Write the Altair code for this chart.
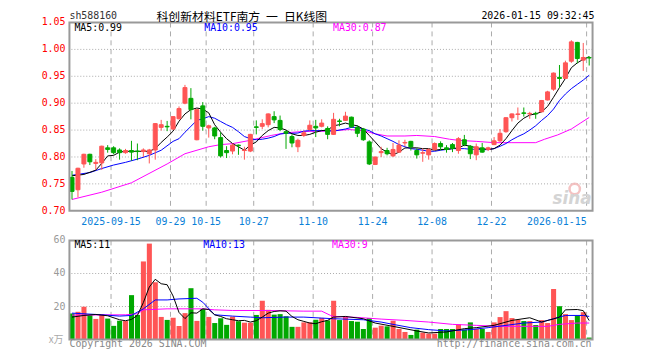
import altair as alt
import pandas as pd

# ---------------- data ----------------
tick_idx = [7, 17, 23, 31, 41, 51, 61, 71, 87]
tick_lbl = ["2025-09-15", "09-29", "10-15", "10-27", "11-10", "11-24", "12-08", "12-22", "2026-01-15"]

opens = [.762, .739, .787, .805, .788, .789, .817, .817, .813, .808,
         .812, .811, .810, .806, .813, .855, .857, .852, .871, .900,
         .909, .832, .895, .854, .854, .836, .812, .811, .822, .812,
         .811, .856, .857, .860, .875, .868, .847, .838, .819, .840,
         .851, .857, .857, .853, .842, .867, .868, .874, .855, .852,
         .828, .786, .808, .812, .802, .809, .826, .829, .812, .807,
         .804, .814, .825, .817, .823, .812, .832, .820, .804, .817,
         .814, .823, .830, .847, .873, .879, .882, .880, .881, .884,
         .906, .926, .948, .946, .978, 1.013, .980, .985]
highs = [.774, .780, .806, .806, .796, .821, .822, .820, .816, .815,
         .830, .825, .816, .815, .863, .869, .867, .876, .894, .934,
         .928, .888, .902, .860, .856, .846, .820, .825, .823, .819,
         .843, .868, .870, .881, .885, .877, .849, .842, .834, .849,
         .868, .869, .870, .857, .882, .871, .884, .875, .859, .854,
         .831, .800, .819, .817, .826, .831, .832, .830, .816, .816,
         .816, .827, .829, .822, .826, .837, .841, .822, .825, .826,
         .819, .837, .852, .874, .881, .892, .892, .884, .884, .906,
         .923, .957, .971, .979, 1.017, 1.014, 1.012, .987]
lows = [.721, .725, .780, .785, .776, .776, .808, .805, .795, .806,
        .793, .794, .800, .788, .795, .849, .848, .850, .870, .898,
        .870, .831, .849, .836, .833, .799, .798, .805, .804, .795,
        .809, .842, .852, .855, .863, .848, .815, .818, .809, .837,
        .849, .837, .855, .833, .841, .857, .867, .854, .837, .830,
        .785, .785, .800, .803, .800, .808, .820, .812, .797, .791,
        .795, .812, .812, .808, .809, .806, .820, .796, .794, .808,
        .811, .822, .828, .845, .866, .869, .875, .871, .871, .883,
        .905, .923, .929, .945, .975, .974, .960, .970]
closes = [.736, .779, .805, .791, .790, .820, .814, .808, .808, .812,
          .809, .810, .813, .813, .862, .860, .856, .875, .890, .929,
          .888, .888, .857, .858, .839, .802, .808, .822, .821, .813,
          .842, .855, .862, .880, .869, .851, .844, .826, .831, .845,
          .859, .854, .863, .842, .870, .866, .876, .856, .844, .832,
          .787, .800, .810, .806, .814, .822, .827, .819, .804, .808,
          .814, .825, .819, .814, .816, .834, .823, .806, .819, .809,
          .817, .830, .844, .873, .880, .880, .881, .881, .880, .905,
          .921, .956, .946, .975, 1.014, .983, .985, .984]
vols = [15.8, 16.8, 19.8, 14.7, 12.5, 15.2, 12.7, 8.3, 11.4, 11.2,
        26.9, 14.9, 47.3, 58.1, 34.7, 13.7, 11.9, 13.2, 8.2, 16.0,
        31.1, 11.3, 18.5, 13.7, 10.0, 12.9, 8.9, 13.9, 11.1, 10.2,
        10.2, 14.9, 23.5, 18.0, 15.1, 15.4, 14.1, 7.7, 7.7, 10.4,
        10.4, 12.0, 13.1, 11.6, 23.5, 11.8, 14.0, 11.2, 10.8, 6.4,
        13.0, 7.2, 8.4, 8.0, 11.4, 6.4, 4.6, 2.8, 6.0, 4.2,
        3.6, 3.6, 6.4, 6.4, 6.4, 9.2, 6.0, 10.4, 6.4, 6.4,
        4.6, 10.4, 13.6, 17.2, 13.0, 12.0, 11.2, 11.2, 8.8, 11.8,
        10.0, 30.6, 20.2, 15.4, 11.8, 14.4, 16.6, 1.2]

# moving averages (bar number, value)
ma5_bar = [1, 3, 5, 6, 7, 8, 9, 10, 12, 14, 15, 16, 17, 18, 19, 20, 21, 22, 23, 24, 25, 26, 27, 28, 29, 30,
           31, 32, 33, 34, 35, 36, 37, 38, 39, 40, 41, 42, 43, 44, 45, 46, 47, 48, 49, 50, 51, 52, 53, 54, 55,
           56, 57, 58, 59, 60, 61, 62, 63, 64, 65, 66, 67, 68, 69, 70, 71, 72, 73, 74, 75, 76, 77, 78, 79, 80,
           81, 82, 83, 84, 85, 86, 87, 88]
ma5_val = [.765, .7675, .7755, .788, .802, .803, .809, .8105, .8105, .8105, .8155, .827, .837, .848, .8665,
           .880, .888, .891, .889, .882, .860, .846, .834, .825, .819, .8125, .822, .828, .840, .849, .855,
           .854, .850, .843, .840, .840, .842, .846, .849, .850, .858, .860, .863, .860, .858, .852, .840,
           .828, .8155, .809, .804, .809, .8167, .817, .817, .8155, .8155, .8125, .814, .814, .8155, .817,
           .822, .820, .817, .8155, .814, .8155, .822, .834, .849, .863, .872, .878, .880, .884, .894, .911,
           .929, .946, .966, .975, .9815, .9865]
ma10_bar = [1, 4, 6, 8, 10, 12, 14, 16, 18, 19, 20, 21, 22, 23, 24, 25, 26, 27, 28, 29, 30, 31, 32, 33, 34,
            35, 36, 37, 38, 39, 40, 41, 42, 43, 44, 45, 46, 47, 48, 49, 50, 51, 52, 53, 54, 55, 56, 57, 58,
            59, 60, 61, 62, 63, 64, 65, 66, 67, 68, 69, 70, 71, 72, 73, 74, 75, 76, 77, 78, 79, 80, 81, 82,
            83, 84, 85, 86, 87, 88]
ma10_val = [.766, .771, .7785, .785, .790, .796, .803, .8125, .829, .834, .846, .857, .868, .871, .875, .872,
            .866, .860, .855, .847, .838, .834, .832, .833, .835, .838, .8426, .844, .844, .8445, .848, .849,
            .849, .849, .849, .848, .850, .852, .855, .855, .852, .849, .843, .839, .834, .829, .823, .819,
            .8155, .8143, .8125, .8106, .8106, .8125, .814, .8155, .8155, .8155, .8143, .8143, .8136, .8136,
            .8155, .8198, .825, .832, .838, .843, .850, .858, .868, .877, .889, .905, .917, .927, .935, .943,
            .952]
ma30_bar = [1, 6, 11, 17, 20, 24, 26, 28, 31, 34.5, 37, 40, 44, 47.6, 50, 52, 54, 57, 59, 62, 64.5, 66, 69,
            72, 75, 79, 80.5, 82.7, 85, 86.6, 88]
ma30_val = [.721, .7345, .752, .787, .806, .819, .823, .8247, .831, .840, .845, .8475, .848, .851, .849, .843,
            .839, .839, .840, .838, .833, .831, .829, .8266, .8266, .8266, .833, .841, .852, .8635, .8735]

vma5_bar = [1, 3, 5, 7, 9, 10, 11, 12, 13, 14, 15, 16, 17, 18, 19, 20, 21, 22, 23, 24, 25, 26, 27, 28, 29,
            30, 31, 32, 33, 34, 35, 36, 37, 38, 39, 40, 41, 42, 43, 44, 45, 47, 50, 52, 55, 59, 61, 64, 67,
            69, 72, 75, 78, 80, 82, 83, 84, 86, 87, 88]
vma5_val = [13.6, 14.6, 15.2, 14.4, 12.0, 11.4, 12.2, 14.6, 22.4, 31.8, 36.5, 33.8, 33.2, 26.4, 16.4, 12.7,
            16.2, 16.0, 18.6, 18.2, 15.0, 14.0, 12.6, 12.0, 11.4, 11.6, 10.6, 11.4, 13.6, 16.0, 17.0, 17.4,
            17.2, 14.0, 12.0, 11.0, 10.0, 9.6, 10.8, 11.6, 13.6, 14.0, 12.6, 10.0, 8.0, 5.2, 4.0, 4.6, 6.6,
            7.2, 8.6, 11.6, 13.2, 10.6, 12.5, 13.6, 18.0, 18.2, 17.5, 11.5]
vma10_bar = [1, 6, 9, 11, 13, 15, 17, 19, 22, 23, 25, 28, 31, 33, 37, 40, 43, 45, 50, 53, 55, 58, 61, 64, 68,
             71, 74, 77, 80, 82, 84, 87, 88]
vma10_val = [16.0, 15.0, 14.2, 14.6, 18.6, 24.0, 24.0, 24.6, 25.0, 22.6, 15.0, 14.2, 13.6, 13.2, 13.6, 13.6,
             13.0, 12.6, 12.0, 10.6, 9.2, 7.2, 6.0, 5.2, 6.0, 7.2, 8.6, 10.0, 10.6, 12.6, 14.6, 14.6, 14.0]
vma30_bar = [1, 10, 12, 13, 17, 23, 25, 28, 34, 40, 43, 44.5, 45, 49, 53, 57, 61, 65, 69, 73, 78, 81, 83,
             86, 88]
vma30_val = [14.8, 15.0, 15.6, 18.0, 18.6, 18.6, 18.0, 17.6, 17.6, 17.2, 17.2, 14.6, 14.0, 13.4, 12.4, 11.6,
             10.6, 9.2, 8.6, 8.0, 8.0, 8.0, 9.2, 10.0, 10.0]

price_ticks = [0.70, 0.75, 0.80, 0.85, 0.90, 0.95, 1.00, 1.05]
vol_ticks = [0, 20, 40, 60]

# ---------------- style ----------------
RED = "#ff5555"
GREEN = "#00a800"
GRID = "#aaaaaa"
BORDER = "#999999"
MONO = "DejaVu Sans Mono"
CJK = "Noto Sans CJK SC"
N = len(opens)

W, H = 528, 320
xs = alt.Scale(domain=[0, N], nice=False, zero=False)
ps = alt.Scale(domain=[1.05 - 320 * 0.35 / 190, 1.05], nice=False, zero=False)
vs = alt.Scale(domain=[0, 192], nice=False, zero=False)
cs = alt.Scale(domain=["up", "down"], range=[RED, GREEN])

df = pd.DataFrame({"i": list(range(N)), "open": opens, "high": highs, "low": lows,
                   "close": closes, "vol": vols})
base = alt.Chart(df).transform_calculate(
    dir="datum.close >= datum.open ? 'up' : 'down'",
    x0="datum.i + 0.1", x1="datum.i + 0.77", xc="datum.i + 0.435",
    v0="datum.i + 0.02", v1="datum.i + 0.87", zero="0",
)
col = alt.Color("dir:N", scale=cs, legend=None)

ticks_df = pd.DataFrame({"t": tick_idx, "lbl": tick_lbl})
pt_df = pd.DataFrame({"p": price_ticks})
vt_df = pd.DataFrame({"v": vol_ticks})
frame_p = pd.DataFrame({"a": [0], "b": [N], "top": [price_ticks[-1]], "bot": [price_ticks[0]]})
frame_v = pd.DataFrame({"a": [0], "b": [N], "top": [vol_ticks[-1]], "bot": [vol_ticks[0]]})


def ma_line(bars, vals, color, yscale):
    d = pd.DataFrame({"b": bars, "v": vals})
    return alt.Chart(d).transform_calculate(xm="datum.b - 0.565").mark_line(
        color=color, strokeWidth=1
    ).encode(x=alt.X("xm:Q", scale=xs, axis=None), y=alt.Y("v:Q", scale=yscale, axis=None))


dummy = pd.DataFrame({"k": [0]})


def txt(s, x, y, color, size=10, align="left", font=MONO, **kw):
    return alt.Chart(dummy).mark_text(text=s, align=align, baseline="middle", font=font,
                                      fontSize=size, color=color, **kw).encode(
        x=alt.value(x), y=alt.value(y))


layers = []
# ---------------- price panel ----------------
layers.append(alt.Chart(pt_df).transform_filter("datum.p > 0.72 && datum.p < 1.02").mark_rule(
    color=GRID, strokeDash=[1, 2], strokeWidth=1).encode(y=alt.Y("p:Q", scale=ps, axis=None)))
layers.append(alt.Chart(ticks_df).transform_calculate(top="1.05", bot="0.70").mark_rule(
    color=GRID, strokeDash=[5, 4], strokeWidth=1).encode(
    x=alt.X("t:Q", scale=xs, axis=None), y=alt.Y("top:Q", scale=ps, axis=None), y2="bot:Q"))
# sina watermark
layers.append(alt.Chart(dummy).mark_point(shape="circle", size=110, filled=False, stroke="#f2b4b4",
                                          strokeWidth=2.5, opacity=0.8).encode(
    x=alt.value(510), y=alt.value(168)))
layers.append(txt("sina", 527, 178, "#d4d4d4", size=17, align="right", font="DejaVu Sans",
                  fontStyle="italic", fontWeight="bold"))
layers.append(ma_line(ma30_bar, ma30_val, "#ff00ff", ps))
layers.append(ma_line(ma10_bar, ma10_val, "#0000ff", ps))
layers.append(ma_line(ma5_bar, ma5_val, "#000000", ps))
layers.append(base.mark_rule(strokeWidth=1).encode(
    x=alt.X("xc:Q", scale=xs, axis=None), y=alt.Y("low:Q", scale=ps, axis=None), y2="high:Q", color=col))
layers.append(base.mark_rect(strokeWidth=1).encode(
    x=alt.X("x0:Q", scale=xs, axis=None), x2="x1:Q",
    y=alt.Y("open:Q", scale=ps, axis=None), y2="close:Q", color=col, stroke=col))
layers.append(alt.Chart(frame_p).mark_rect(fillOpacity=0, stroke=BORDER, strokeWidth=2).encode(
    x=alt.X("a:Q", scale=xs, axis=None), x2="b:Q", y=alt.Y("top:Q", scale=ps, axis=None), y2="bot:Q"))
layers.append(alt.Chart(pt_df).mark_text(align="right", baseline="middle", font=MONO, fontSize=10,
                                         color="#ff0000").encode(
    x=alt.value(-4), y=alt.Y("p:Q", scale=ps, axis=None), text=alt.Text("p:Q", format=".2f")))
layers.append(alt.Chart(ticks_df).transform_filter("datum.t < 80").mark_text(
    align="center", baseline="middle", font=MONO, fontSize=10, color="#0a7fd8").encode(
    x=alt.X("t:Q", scale=xs, axis=None), y=alt.value(201), text="lbl:N"))
layers.append(alt.Chart(ticks_df).transform_filter("datum.t >= 80").mark_text(
    align="right", baseline="middle", font=MONO, fontSize=10, color="#0a7fd8").encode(
    x=alt.X("t:Q", scale=xs, axis=None), y=alt.value(201), text="lbl:N"))

# ---------------- volume panel ----------------
layers.append(alt.Chart(vt_df).transform_filter("datum.v > 0 && datum.v < 60").mark_rule(
    color=GRID, strokeDash=[1, 2], strokeWidth=1).encode(y=alt.Y("v:Q", scale=vs, axis=None)))
layers.append(alt.Chart(ticks_df).transform_calculate(top="60", bot="0").mark_rule(
    color=GRID, strokeDash=[5, 4], strokeWidth=1).encode(
    x=alt.X("t:Q", scale=xs, axis=None), y=alt.Y("top:Q", scale=vs, axis=None), y2="bot:Q"))
layers.append(base.mark_rect().encode(
    x=alt.X("v0:Q", scale=xs, axis=None), x2="v1:Q",
    y=alt.Y("vol:Q", scale=vs, axis=None), y2="zero:Q", color=col))
layers.append(ma_line(vma30_bar, vma30_val, "#ff00ff", vs))
layers.append(ma_line(vma10_bar, vma10_val, "#0000ff", vs))
layers.append(ma_line(vma5_bar, vma5_val, "#000000", vs))
layers.append(alt.Chart(frame_v).mark_rect(fillOpacity=0, stroke=BORDER, strokeWidth=2).encode(
    x=alt.X("a:Q", scale=xs, axis=None), x2="b:Q", y=alt.Y("top:Q", scale=vs, axis=None), y2="bot:Q"))
layers.append(alt.Chart(vt_df).transform_filter("datum.v > 0").mark_text(
    align="right", baseline="middle", font=MONO, fontSize=10, color="#999999").encode(
    x=alt.value(-4), y=alt.Y("v:Q", scale=vs, axis=None), text="v:Q"))

# ---------------- texts ----------------
layers += [
    txt("sh588160", 0, -7, "#333333"),
    txt("科创新材料ETF南方\u2002一\u2002日K线图", 174, -6, "#000000", size=12, align="center", font=CJK),
    txt("2026-01-15 09:32:45", 530, -7, "#000000", align="right"),
    txt("MA5:0.99", 5, 6, "#000000"),
    txt("MA10:0.95", 136, 6, "#0000ff"),
    txt("MA30:0.87", 266, 6, "#ff00ff"),
    txt("MA5:11", 5, 225, "#000000"),
    txt("MA10:13", 135, 225, "#0000ff"),
    txt("MA30:9", 265, 225, "#ff00ff"),
    txt("x万", -6, 320, "#aaaaaa", align="right", font=CJK, size=10),
    txt("Copyright 2026 SINA.COM", 0, 325, "#888888"),
    txt("http://finance.sina.com.cn", 527, 325, "#888888", align="right"),
]

chart = alt.layer(*layers).resolve_scale(y="independent").properties(
    width=W, height=H,
    autosize=alt.AutoSizeParams(type="none"),
    padding={"left": 62, "top": 13, "right": 60, "bottom": 20},
).configure_view(stroke=None)

chart.save("out.html", embed_options={"renderer": "svg", "actions": False})
